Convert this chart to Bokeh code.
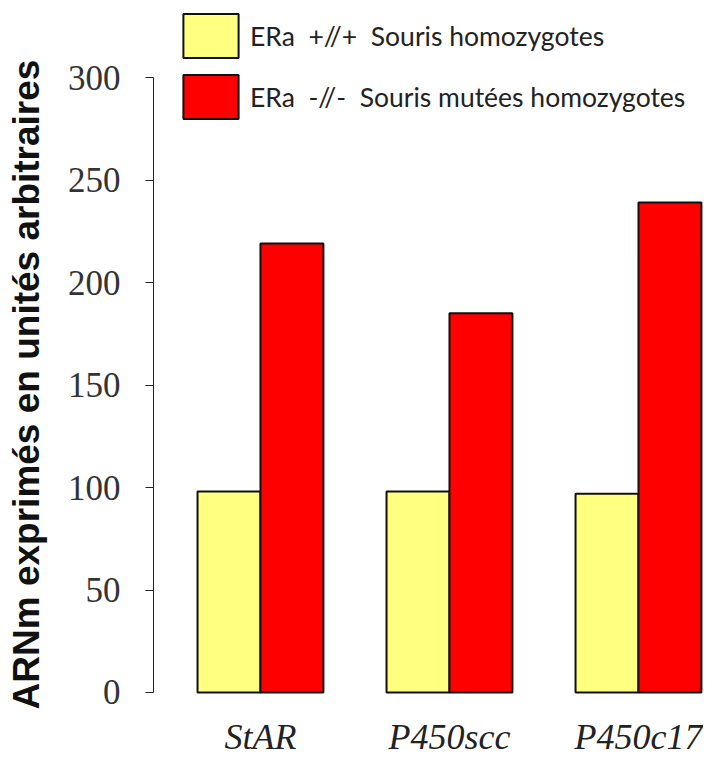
import numpy as np
from bokeh.plotting import figure
from bokeh.models import Range1d, FixedTicker, ColumnDataSource, Legend, LegendItem
from bokeh.transform import dodge
from bokeh.core.properties import value
from bokeh.embed import file_html
from bokeh.resources import INLINE

categories = ["StAR", "P450scc", "P450c17"]
wild_type = [98, 98, 97]
mutant = [219, 185, 239]
y_ticks = [0, 50, 100, 150, 200, 250, 300]
legend_labels = ["ERa  +//+  Souris homozygotes", "ERa  -//-  Souris mutées homozygotes"]
y_label = "ARNm exprimés en unités arbitraires"

idx = np.arange(len(categories))
src = ColumnDataSource(dict(x=idx, wt=wild_type, mu=mutant, cat=categories))

p = figure(width=703, height=758, output_backend="svg", toolbar_location=None,
           x_range=Range1d(-0.566, 2.344), y_range=Range1d(-32.2, 332.7),
           min_border_left=153, min_border_right=0, min_border_top=10, min_border_bottom=0)
p.outline_line_color = None
p.grid.visible = False
p.background_fill_color = "white"
p.xaxis.visible = False

bw = 0.333
r1 = p.vbar(x=dodge("x", -bw / 2), top="wt", bottom=0, width=bw, source=src, fill_color="#FFFF80",
            line_color="#111111", line_width=2)
r2 = p.vbar(x=dodge("x", bw / 2), top="mu", bottom=0, width=bw, source=src, fill_color="#FF0000",
            line_color="#111111", line_width=2)

# category labels under the groups
p.text(x="x", y=0, text="cat", source=src, y_offset=45, text_align="center",
       text_baseline="middle", text_font=value("Liberation Serif"), text_font_style="italic",
       text_font_size="36px", text_color="#222222")

# y axis
ya = p.yaxis[0]
ya.ticker = FixedTicker(ticks=y_ticks)
ya.bounds = (0, 300)
ya.minor_tick_line_color = None
ya.major_tick_in = 0
ya.major_tick_out = 8
ya.major_label_standoff = 25
ya.axis_line_color = "#222222"
ya.major_tick_line_color = "#222222"
ya.major_label_text_font = "Liberation Serif"
ya.major_label_text_font_size = "35px"
ya.major_label_text_color = "#333333"
ya.axis_label = y_label
ya.axis_label_text_font = "Liberation Sans"
ya.axis_label_text_font_style = "bold"
ya.axis_label_text_font_size = "37px"
ya.axis_label_text_color = "#111111"
ya.axis_label_standoff = 18

legend = Legend(items=[LegendItem(label=legend_labels[0], renderers=[r1]),
                       LegendItem(label=legend_labels[1], renderers=[r2])],
                location=(23, 634), padding=0, margin=0, spacing=6,
                glyph_width=69, glyph_height=55, label_standoff=5,
                label_text_font="Lato", label_text_font_size="26.5px",
                label_text_color="#222222", border_line_color=None,
                background_fill_alpha=0)
p.add_layout(legend, "center")

open("out.html", "w").write(file_html(p, INLINE))
